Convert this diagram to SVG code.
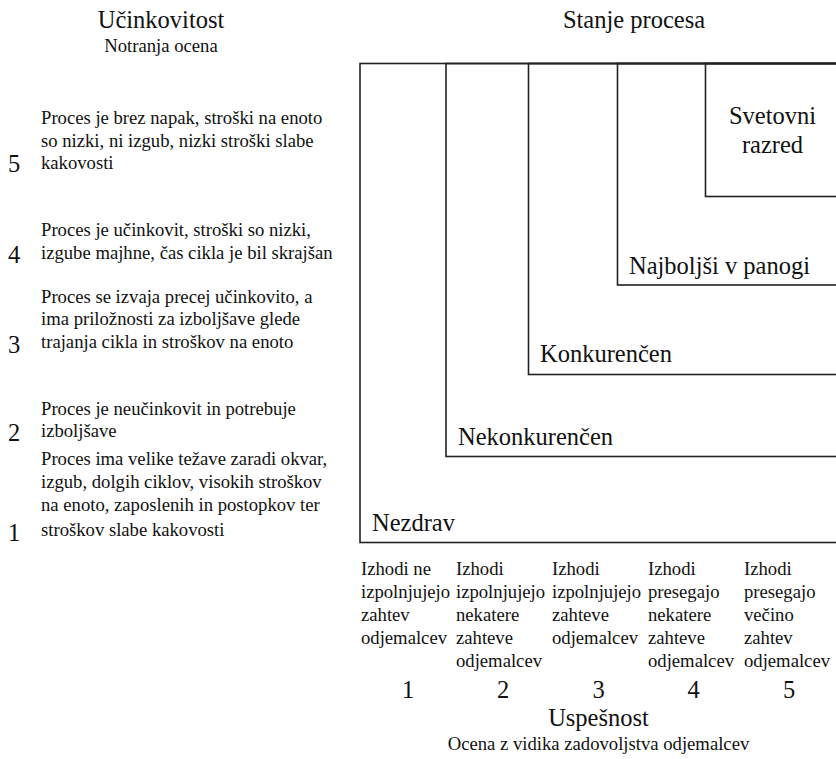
<svg xmlns="http://www.w3.org/2000/svg" width="836" height="759" viewBox="0 0 836 759">
<style>
text{font-family:"Liberation Serif","Times New Roman",serif;fill:#111}
.big{font-size:24.5px}
.sm{font-size:18.67px}
.mid{text-anchor:middle}
.box{fill:none;stroke:#222;stroke-width:1.6}
</style>
<rect width="836" height="759" fill="#fff"/>
<g id="header-left">
<text class="big mid" x="161" y="28">Učinkovitost</text>
<text class="sm mid" x="161" y="52">Notranja ocena</text>
</g>
<g id="header-right">
<text class="big mid" x="634" y="28">Stanje procesa</text>
</g>
<g id="boxes">
<g id="nezdrav"><rect class="box" x="360" y="63.5" width="520" height="479"/><text class="big" x="372" y="531">Nezdrav</text></g>
<g id="nekonkurencen"><rect class="box" x="446" y="63.5" width="440" height="393"/><text class="big" x="458" y="445">Nekonkurenčen</text></g>
<g id="konkurencen"><rect class="box" x="528.5" y="63.5" width="360" height="311"/><text class="big" x="540" y="362">Konkurenčen</text></g>
<g id="najboljsi"><rect class="box" x="617.5" y="63.5" width="270" height="221.5"/><text class="big" x="629" y="274">Najboljši v panogi</text></g>
<g id="svetovni"><rect class="box" x="705.5" y="63.5" width="180" height="133"/><text class="big mid" x="772.5" y="124">Svetovni</text><text class="big mid" x="772.5" y="153">razred</text></g>
</g>
<g id="efficiency">
<g id="e5"><text class="big" x="8" y="172">5</text>
<text class="sm" x="41" y="124">Proces je brez napak, stroški na enoto</text>
<text class="sm" x="41" y="147">so nizki, ni izgub, nizki stroški slabe</text>
<text class="sm" x="41" y="169">kakovosti</text></g>
<g id="e4"><text class="big" x="8" y="263">4</text>
<text class="sm" x="41" y="236">Proces je učinkovit, stroški so nizki,</text>
<text class="sm" x="41" y="259">izgube majhne, čas cikla je bil skrajšan</text></g>
<g id="e3"><text class="big" x="8" y="353">3</text>
<text class="sm" x="41" y="303">Proces se izvaja precej učinkovito, a</text>
<text class="sm" x="41" y="325">ima priložnosti za izboljšave glede</text>
<text class="sm" x="41" y="348">trajanja cikla in stroškov na enoto</text></g>
<g id="e2"><text class="big" x="8" y="441">2</text>
<text class="sm" x="41" y="415">Proces je neučinkovit in potrebuje</text>
<text class="sm" x="41" y="437">izboljšave</text></g>
<g id="e1"><text class="big" x="8" y="541">1</text>
<text class="sm" x="41" y="465">Proces ima velike težave zaradi okvar,</text>
<text class="sm" x="41" y="488">izgub, dolgih ciklov, visokih stroškov</text>
<text class="sm" x="41" y="511">na enoto, zaposlenih in postopkov ter</text>
<text class="sm" x="41" y="536">stroškov slabe kakovosti</text></g>
</g>
<g id="effectiveness">
<g id="s1"><text class="sm" x="361" y="575">Izhodi ne</text><text class="sm" x="361" y="598">izpolnjujejo</text><text class="sm" x="361" y="621">zahtev</text><text class="sm" x="361" y="644">odjemalcev</text><text class="big mid" x="408" y="698">1</text></g>
<g id="s2"><text class="sm" x="456" y="575">Izhodi</text><text class="sm" x="456" y="598">izpolnjujejo</text><text class="sm" x="456" y="621">nekatere</text><text class="sm" x="456" y="644">zahteve</text><text class="sm" x="456" y="667">odjemalcev</text><text class="big mid" x="503" y="698">2</text></g>
<g id="s3"><text class="sm" x="552" y="575">Izhodi</text><text class="sm" x="552" y="598">izpolnjujejo</text><text class="sm" x="552" y="621">zahteve</text><text class="sm" x="552" y="644">odjemalcev</text><text class="big mid" x="598.5" y="698">3</text></g>
<g id="s4"><text class="sm" x="648" y="575">Izhodi</text><text class="sm" x="648" y="598">presegajo</text><text class="sm" x="648" y="621">nekatere</text><text class="sm" x="648" y="644">zahteve</text><text class="sm" x="648" y="667">odjemalcev</text><text class="big mid" x="693.5" y="698">4</text></g>
<g id="s5"><text class="sm" x="744" y="575">Izhodi</text><text class="sm" x="744" y="598">presegajo</text><text class="sm" x="744" y="621">večino</text><text class="sm" x="744" y="644">zahtev</text><text class="sm" x="744" y="667">odjemalcev</text><text class="big mid" x="789" y="698">5</text></g>
<text class="big mid" x="598.5" y="726">Uspešnost</text>
<text class="sm mid" x="598.5" y="750">Ocena z vidika zadovoljstva odjemalcev</text>
</g>
</svg>
